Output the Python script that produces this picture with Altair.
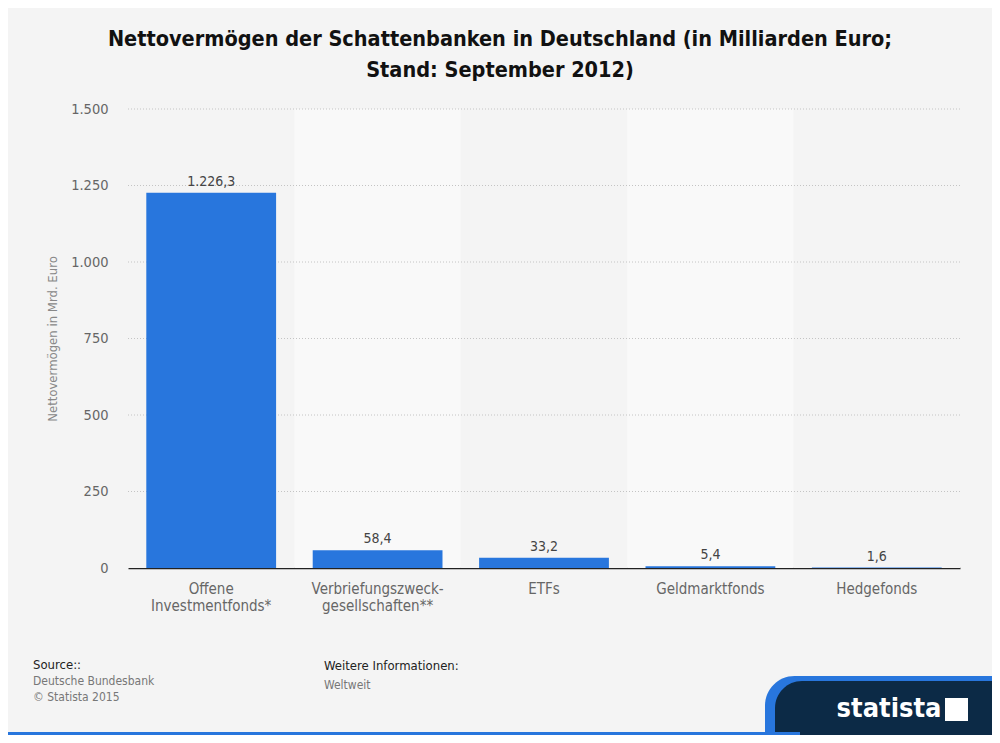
import altair as alt
import pandas as pd

# ---- data ----
categories = ["Offene\nInvestmentfonds*", "Verbriefungszweck-\ngesellschaften**", "ETFs", "Geldmarktfonds", "Hedgefonds"]
values = [1226.3, 58.4, 33.2, 5.4, 1.6]
y_ticks = [0, 250, 500, 750, 1000, 1250, 1500]
band_colors = ["#f4f4f4", "#f9f9f9", "#f4f4f4", "#f9f9f9", "#f4f4f4"]

title_lines = ["Nettovermögen der Schattenbanken in Deutschland (in Milliarden Euro;", "Stand: September 2012)"]
y_title = "Nettovermögen in Mrd. Euro"
source_head = "Source::"
source_lines = ["Deutsche Bundesbank", "© Statista 2015"]
info_head = "Weitere Informationen:"
info_lines = ["Weltweit"]


def de(v):
    return f"{v:,.1f}".replace(",", "X").replace(".", ",").replace("X", ".")


df = pd.DataFrame({"cat": categories, "val": values,
                   "label": [de(v) for v in values], "band": band_colors})
ticks_df = pd.DataFrame({"val": y_ticks[1:]})
one = pd.DataFrame({"a": [0]})

FONT = "DejaVu Sans Condensed"
W, H = 832, 459
OX, OY = 128, 109  # plot origin in page coords
SVG_W, SVG_H = 984, 727
BLUE = "#2876dd"

xs_bar = alt.Scale(paddingInner=0.22, paddingOuter=0.11)
ys = alt.Scale(domain=[0, 1500], nice=False)
y_axis = alt.Axis(values=y_ticks, grid=False, domain=False, ticks=False,
                  labelExpr="replace(format(datum.value, ','), ',', '.')",
                  labelFont=FONT, labelFontSize=14.5, labelColor="#666", labelPadding=20,
                  title=y_title, titleFont=FONT, titleFontSize=13, titleFontWeight="normal",
                  titleColor="#888", titlePadding=11)

bands = alt.Chart(df).mark_bar().encode(
    x=alt.X("cat:N", sort=categories, axis=None, scale=alt.Scale(paddingInner=0, paddingOuter=0)),
    y=alt.value(0), y2=alt.value(H),
    color=alt.Color("band:N", scale=None),
)

grid = alt.Chart(ticks_df).mark_rule(color="#c4c4c4", strokeDash=[1, 2], strokeWidth=1).encode(
    y=alt.Y("val:Q", scale=ys, axis=y_axis)
)

bars = alt.Chart(df).mark_bar(color=BLUE).encode(
    x=alt.X("cat:N", sort=categories, scale=xs_bar,
            axis=alt.Axis(title=None, labelAngle=0, labelExpr="split(datum.label, '\\n')",
                          labelFont=FONT, labelFontSize=15, labelColor="#666", labelPadding=13,
                          labelLineHeight=17, ticks=False, domainColor="#222", domainWidth=1.3)),
    y=alt.Y("val:Q", scale=ys, axis=y_axis),
)

labels = alt.Chart(df).mark_text(baseline="bottom", dy=-4, font=FONT, fontSize=14, color="#444").encode(
    x=alt.X("cat:N", sort=categories, scale=xs_bar, axis=None),
    y=alt.Y("val:Q", scale=ys, axis=y_axis),
    text="label:N",
)


def txt(text, px, py, size=12, color="#777", weight="normal", align="left", baseline="middle", lh=16):
    return alt.Chart(one).mark_text(text=text, font=FONT, fontSize=size, color=color, fontWeight=weight,
                                    align=align, baseline=baseline, lineHeight=lh).encode(
        x=alt.value(px - OX), y=alt.value(py - OY))


title1 = txt(title_lines[0], 500, 40, size=21.5, color="#111", weight="bold", align="center")
title2 = txt(title_lines[1], 500, 71, size=21.5, color="#111", weight="bold", align="center")
src_h = txt(source_head, 33, 665, size=13, color="#222")
src_b = txt(source_lines, 33, 676, size=12, color="#777", baseline="top", lh=16)
inf_h = txt(info_head, 324, 666, size=13, color="#222")
inf_b = txt(info_lines, 324, 685, size=12, color="#777")

# logo decoration
logo_blue = alt.Chart(one).mark_rect(color=BLUE, cornerRadiusTopLeft=60).encode(
    x=alt.value(765 - OX), x2=alt.value(992 - OX), y=alt.value(676 - OY), y2=alt.value(735 - OY))
logo_dark = alt.Chart(one).mark_rect(color="#0c2a46", cornerRadiusTopLeft=55).encode(
    x=alt.value(775 - OX), x2=alt.value(992 - OX), y=alt.value(681 - OY), y2=alt.value(735 - OY))
bottom_line = alt.Chart(one).mark_rect(color=BLUE).encode(
    x=alt.value(8 - OX), x2=alt.value(800 - OX), y=alt.value(732 - OY), y2=alt.value(735 - OY))
logo_text = txt("statista", 889, 709, size=27, color="#ffffff", weight="bold", align="center")
logo_mark = alt.Chart(one).mark_rect(color="#ffffff").encode(
    x=alt.value(945 - OX), x2=alt.value(968 - OX), y=alt.value(698 - OY), y2=alt.value(721 - OY))

chart = alt.layer(
    bands, grid, bars, labels, title1, title2, src_h, src_b, inf_h, inf_b,
    logo_blue, logo_dark, bottom_line, logo_text, logo_mark
).resolve_scale(x="independent").properties(
    width=W, height=H,
    autosize=alt.AutoSizeParams(type="none"),
    padding={"left": OX - 8, "top": OY - 8, "right": SVG_W - (OX - 8) - W, "bottom": SVG_H - (OY - 8) - H},
    background="#f4f4f4",
).configure_view(stroke=None)

chart.save("out.html", embed_options={"renderer": "svg", "actions": False})
